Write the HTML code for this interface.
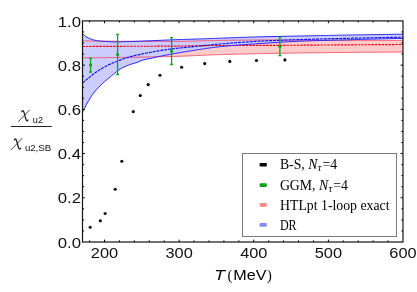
<!DOCTYPE html>
<html><head><meta charset="utf-8"><title>plot</title>
<style>html,body{margin:0;padding:0;background:#fff;}svg{display:block;will-change:transform;}text{font-family:"Liberation Sans",sans-serif;fill:#111;}.ser{font-family:"Liberation Serif",serif;fill:#000;}</style></head>
<body>
<svg width="417" height="292" viewBox="0 0 417 292">
<rect width="417" height="292" fill="#fff"/>
<path d="M82.50 40.90 L84.52 40.92 L86.53 40.95 L88.55 40.97 L90.56 40.99 L92.58 41.01 L94.59 41.03 L96.61 41.06 L98.63 41.08 L100.64 41.10 L102.66 41.12 L104.67 41.13 L106.69 41.15 L108.70 41.17 L110.72 41.19 L112.74 41.20 L114.75 41.22 L116.77 41.23 L118.78 41.24 L120.80 41.26 L122.81 41.27 L124.83 41.28 L126.85 41.29 L128.86 41.30 L130.88 41.30 L132.89 41.31 L134.91 41.32 L136.92 41.32 L138.94 41.33 L140.96 41.34 L142.97 41.34 L144.99 41.35 L147.00 41.36 L149.02 41.36 L151.03 41.37 L153.05 41.37 L155.07 41.38 L157.08 41.38 L159.10 41.38 L161.11 41.39 L163.13 41.39 L165.14 41.39 L167.16 41.40 L169.18 41.40 L171.19 41.40 L173.21 41.40 L175.22 41.40 L177.24 41.39 L179.25 41.38 L181.27 41.36 L183.29 41.33 L185.30 41.29 L187.32 41.25 L189.33 41.20 L191.35 41.15 L193.36 41.09 L195.38 41.03 L197.40 40.97 L199.41 40.91 L201.43 40.85 L203.44 40.79 L205.46 40.73 L207.47 40.67 L209.49 40.62 L211.51 40.56 L213.52 40.52 L215.54 40.47 L217.55 40.44 L219.57 40.41 L221.58 40.38 L223.60 40.35 L225.62 40.33 L227.63 40.30 L229.65 40.28 L231.66 40.25 L233.68 40.23 L235.69 40.20 L237.71 40.18 L239.73 40.16 L241.74 40.14 L243.76 40.12 L245.77 40.10 L247.79 40.08 L249.81 40.06 L251.82 40.05 L253.84 40.04 L255.85 40.02 L257.87 40.01 L259.88 40.01 L261.90 40.00 L263.92 40.00 L265.93 40.00 L267.95 40.00 L269.96 40.01 L271.98 40.01 L273.99 40.02 L276.01 40.02 L278.03 40.03 L280.04 40.04 L282.06 40.05 L284.07 40.06 L286.09 40.08 L288.10 40.09 L290.12 40.10 L292.14 40.12 L294.15 40.13 L296.17 40.15 L298.18 40.17 L300.20 40.18 L302.21 40.20 L304.23 40.21 L306.25 40.23 L308.26 40.25 L310.28 40.26 L312.29 40.28 L314.31 40.29 L316.32 40.31 L318.34 40.32 L320.36 40.33 L322.37 40.34 L324.39 40.36 L326.40 40.37 L328.42 40.37 L330.43 40.38 L332.45 40.39 L334.47 40.39 L336.48 40.40 L338.50 40.40 L340.51 40.40 L342.53 40.40 L344.54 40.40 L346.56 40.40 L348.58 40.40 L350.59 40.40 L352.61 40.40 L354.62 40.40 L356.64 40.40 L358.65 40.40 L360.67 40.40 L362.69 40.40 L364.70 40.39 L366.72 40.39 L368.73 40.39 L370.75 40.39 L372.76 40.39 L374.78 40.38 L376.80 40.38 L378.81 40.38 L380.83 40.37 L382.84 40.37 L384.86 40.36 L386.87 40.36 L388.89 40.35 L390.91 40.35 L392.92 40.34 L394.94 40.33 L396.95 40.33 L398.97 40.32 L400.98 40.31 L403.00 40.30 L403.00 52.00 L400.98 52.01 L398.97 52.02 L396.95 52.03 L394.94 52.05 L392.92 52.06 L390.91 52.07 L388.89 52.09 L386.87 52.10 L384.86 52.11 L382.84 52.13 L380.83 52.14 L378.81 52.16 L376.80 52.17 L374.78 52.19 L372.76 52.21 L370.75 52.22 L368.73 52.24 L366.72 52.25 L364.70 52.27 L362.69 52.29 L360.67 52.31 L358.65 52.32 L356.64 52.34 L354.62 52.36 L352.61 52.38 L350.59 52.40 L348.58 52.42 L346.56 52.44 L344.54 52.46 L342.53 52.48 L340.51 52.49 L338.50 52.51 L336.48 52.54 L334.47 52.56 L332.45 52.58 L330.43 52.60 L328.42 52.62 L326.40 52.64 L324.39 52.66 L322.37 52.69 L320.36 52.71 L318.34 52.73 L316.32 52.76 L314.31 52.78 L312.29 52.80 L310.28 52.83 L308.26 52.85 L306.25 52.88 L304.23 52.90 L302.21 52.93 L300.20 52.96 L298.18 52.98 L296.17 53.01 L294.15 53.04 L292.14 53.07 L290.12 53.10 L288.10 53.13 L286.09 53.16 L284.07 53.19 L282.06 53.22 L280.04 53.25 L278.03 53.28 L276.01 53.31 L273.99 53.35 L271.98 53.38 L269.96 53.41 L267.95 53.45 L265.93 53.48 L263.92 53.52 L261.90 53.56 L259.88 53.59 L257.87 53.63 L255.85 53.68 L253.84 53.72 L251.82 53.76 L249.81 53.81 L247.79 53.85 L245.77 53.90 L243.76 53.95 L241.74 54.00 L239.73 54.05 L237.71 54.10 L235.69 54.15 L233.68 54.21 L231.66 54.26 L229.65 54.32 L227.63 54.38 L225.62 54.43 L223.60 54.49 L221.58 54.55 L219.57 54.61 L217.55 54.68 L215.54 54.75 L213.52 54.82 L211.51 54.90 L209.49 54.99 L207.47 55.07 L205.46 55.16 L203.44 55.25 L201.43 55.34 L199.41 55.43 L197.40 55.53 L195.38 55.62 L193.36 55.71 L191.35 55.80 L189.33 55.89 L187.32 55.97 L185.30 56.05 L183.29 56.13 L181.27 56.20 L179.25 56.27 L177.24 56.34 L175.22 56.39 L173.21 56.45 L171.19 56.50 L169.18 56.55 L167.16 56.60 L165.14 56.65 L163.13 56.69 L161.11 56.74 L159.10 56.78 L157.08 56.83 L155.07 56.87 L153.05 56.91 L151.03 56.95 L149.02 56.99 L147.00 57.03 L144.99 57.06 L142.97 57.10 L140.96 57.13 L138.94 57.17 L136.92 57.20 L134.91 57.23 L132.89 57.26 L130.88 57.29 L128.86 57.32 L126.85 57.34 L124.83 57.37 L122.81 57.40 L120.80 57.42 L118.78 57.45 L116.77 57.47 L114.75 57.50 L112.74 57.52 L110.72 57.55 L108.70 57.57 L106.69 57.59 L104.67 57.62 L102.66 57.64 L100.64 57.66 L98.63 57.68 L96.61 57.70 L94.59 57.71 L92.58 57.73 L90.56 57.75 L88.55 57.76 L86.53 57.78 L84.52 57.79 L82.50 57.80 Z" fill="#ffcccc" stroke="none"/>
<path d="M82.50 33.50 L84.52 35.44 L86.53 36.97 L88.55 38.12 L90.56 38.95 L92.58 39.62 L94.59 40.18 L96.61 40.62 L98.63 40.91 L100.64 41.11 L102.66 41.26 L104.67 41.41 L106.69 41.56 L108.70 41.70 L110.72 41.80 L112.74 41.85 L114.75 41.88 L116.77 41.90 L118.78 41.88 L120.80 41.83 L122.81 41.77 L124.83 41.70 L126.85 41.65 L128.86 41.58 L130.88 41.51 L132.89 41.44 L134.91 41.37 L136.92 41.30 L138.94 41.22 L140.96 41.14 L142.97 41.06 L144.99 40.98 L147.00 40.90 L149.02 40.82 L151.03 40.74 L153.05 40.66 L155.07 40.57 L157.08 40.48 L159.10 40.38 L161.11 40.29 L163.13 40.20 L165.14 40.11 L167.16 40.02 L169.18 39.93 L171.19 39.84 L173.21 39.77 L175.22 39.69 L177.24 39.62 L179.25 39.56 L181.27 39.50 L183.29 39.44 L185.30 39.39 L187.32 39.33 L189.33 39.27 L191.35 39.21 L193.36 39.15 L195.38 39.09 L197.40 39.02 L199.41 38.95 L201.43 38.88 L203.44 38.81 L205.46 38.73 L207.47 38.66 L209.49 38.58 L211.51 38.51 L213.52 38.43 L215.54 38.36 L217.55 38.29 L219.57 38.22 L221.58 38.14 L223.60 38.07 L225.62 38.00 L227.63 37.93 L229.65 37.86 L231.66 37.78 L233.68 37.71 L235.69 37.64 L237.71 37.56 L239.73 37.49 L241.74 37.42 L243.76 37.35 L245.77 37.28 L247.79 37.21 L249.81 37.14 L251.82 37.08 L253.84 37.01 L255.85 36.95 L257.87 36.89 L259.88 36.84 L261.90 36.78 L263.92 36.73 L265.93 36.68 L267.95 36.63 L269.96 36.58 L271.98 36.54 L273.99 36.50 L276.01 36.46 L278.03 36.42 L280.04 36.38 L282.06 36.34 L284.07 36.30 L286.09 36.26 L288.10 36.23 L290.12 36.19 L292.14 36.15 L294.15 36.11 L296.17 36.07 L298.18 36.04 L300.20 36.00 L302.21 35.96 L304.23 35.91 L306.25 35.87 L308.26 35.83 L310.28 35.79 L312.29 35.75 L314.31 35.71 L316.32 35.67 L318.34 35.62 L320.36 35.58 L322.37 35.54 L324.39 35.50 L326.40 35.46 L328.42 35.42 L330.43 35.38 L332.45 35.34 L334.47 35.30 L336.48 35.26 L338.50 35.23 L340.51 35.19 L342.53 35.16 L344.54 35.12 L346.56 35.08 L348.58 35.05 L350.59 35.01 L352.61 34.98 L354.62 34.94 L356.64 34.91 L358.65 34.88 L360.67 34.84 L362.69 34.81 L364.70 34.77 L366.72 34.74 L368.73 34.71 L370.75 34.68 L372.76 34.64 L374.78 34.61 L376.80 34.58 L378.81 34.55 L380.83 34.52 L382.84 34.49 L384.86 34.46 L386.87 34.43 L388.89 34.40 L390.91 34.37 L392.92 34.34 L394.94 34.31 L396.95 34.28 L398.97 34.25 L400.98 34.23 L403.00 34.20 L403.00 38.40 L400.98 38.45 L398.97 38.49 L396.95 38.54 L394.94 38.59 L392.92 38.63 L390.91 38.68 L388.89 38.73 L386.87 38.78 L384.86 38.83 L382.84 38.88 L380.83 38.93 L378.81 38.98 L376.80 39.03 L374.78 39.08 L372.76 39.13 L370.75 39.18 L368.73 39.23 L366.72 39.28 L364.70 39.34 L362.69 39.39 L360.67 39.44 L358.65 39.49 L356.64 39.55 L354.62 39.60 L352.61 39.66 L350.59 39.71 L348.58 39.76 L346.56 39.82 L344.54 39.87 L342.53 39.93 L340.51 39.99 L338.50 40.04 L336.48 40.10 L334.47 40.15 L332.45 40.20 L330.43 40.26 L328.42 40.31 L326.40 40.36 L324.39 40.42 L322.37 40.47 L320.36 40.53 L318.34 40.59 L316.32 40.65 L314.31 40.71 L312.29 40.77 L310.28 40.83 L308.26 40.90 L306.25 40.97 L304.23 41.04 L302.21 41.11 L300.20 41.19 L298.18 41.27 L296.17 41.36 L294.15 41.46 L292.14 41.56 L290.12 41.66 L288.10 41.77 L286.09 41.88 L284.07 41.99 L282.06 42.11 L280.04 42.24 L278.03 42.36 L276.01 42.49 L273.99 42.61 L271.98 42.74 L269.96 42.88 L267.95 43.01 L265.93 43.14 L263.92 43.27 L261.90 43.40 L259.88 43.54 L257.87 43.67 L255.85 43.80 L253.84 43.94 L251.82 44.08 L249.81 44.21 L247.79 44.36 L245.77 44.50 L243.76 44.65 L241.74 44.80 L239.73 44.95 L237.71 45.11 L235.69 45.27 L233.68 45.43 L231.66 45.61 L229.65 45.78 L227.63 45.96 L225.62 46.15 L223.60 46.34 L221.58 46.54 L219.57 46.74 L217.55 46.97 L215.54 47.20 L213.52 47.46 L211.51 47.73 L209.49 48.01 L207.47 48.30 L205.46 48.60 L203.44 48.90 L201.43 49.21 L199.41 49.52 L197.40 49.83 L195.38 50.14 L193.36 50.45 L191.35 50.77 L189.33 51.09 L187.32 51.41 L185.30 51.74 L183.29 52.08 L181.27 52.42 L179.25 52.76 L177.24 53.11 L175.22 53.46 L173.21 53.81 L171.19 54.17 L169.18 54.54 L167.16 54.91 L165.14 55.29 L163.13 55.68 L161.11 56.08 L159.10 56.50 L157.08 56.94 L155.07 57.39 L153.05 57.84 L151.03 58.29 L149.02 58.72 L147.00 59.11 L144.99 59.51 L142.97 60.01 L140.96 60.74 L138.94 61.64 L136.92 62.43 L134.91 63.07 L132.89 63.67 L130.88 64.28 L128.86 65.00 L126.85 65.81 L124.83 66.69 L122.81 67.66 L120.80 68.74 L118.78 69.98 L116.77 71.47 L114.75 73.13 L112.74 74.85 L110.72 76.53 L108.70 78.20 L106.69 79.87 L104.67 81.57 L102.66 83.36 L100.64 85.24 L98.63 87.26 L96.61 89.44 L94.59 91.82 L92.58 94.52 L90.56 97.54 L88.55 100.85 L86.53 104.39 L84.52 108.12 L82.50 112.00 Z" fill="#ccccff" stroke="none"/>
<path d="M82.50 40.90 L84.52 40.92 L86.53 40.95 L88.55 40.97 L90.56 40.99 L92.58 41.01 L94.59 41.03 L96.61 41.06 L98.63 41.08 L100.64 41.10 L102.66 41.12 L104.67 41.13 L106.69 41.15 L108.70 41.17 L110.72 41.19 L112.74 41.20 L114.75 41.22 L116.77 41.23 L118.78 41.24 L120.80 41.26 L122.81 41.27 L124.83 41.28 L126.85 41.29 L128.86 41.30 L130.88 41.30 L132.89 41.31 L134.91 41.32 L136.92 41.32 L138.94 41.33 L140.96 41.34 L142.97 41.34 L144.99 41.35 L147.00 41.36 L149.02 41.36 L151.03 41.37 L153.05 41.37 L155.07 41.38 L157.08 41.38 L159.10 41.38 L161.11 41.39 L163.13 41.39 L165.14 41.39 L167.16 41.40 L169.18 41.40 L171.19 41.40 L173.21 41.40 L175.22 41.40 L177.24 41.39 L179.25 41.38 L181.27 41.36 L183.29 41.33 L185.30 41.29 L187.32 41.25 L189.33 41.20 L191.35 41.15 L193.36 41.09 L195.38 41.03 L197.40 40.97 L199.41 40.91 L201.43 40.85 L203.44 40.79 L205.46 40.73 L207.47 40.67 L209.49 40.62 L211.51 40.56 L213.52 40.52 L215.54 40.47 L217.55 40.44 L219.57 40.41 L221.58 40.38 L223.60 40.35 L225.62 40.33 L227.63 40.30 L229.65 40.28 L231.66 40.25 L233.68 40.23 L235.69 40.20 L237.71 40.18 L239.73 40.16 L241.74 40.14 L243.76 40.12 L245.77 40.10 L247.79 40.08 L249.81 40.06 L251.82 40.05 L253.84 40.04 L255.85 40.02 L257.87 40.01 L259.88 40.01 L261.90 40.00 L263.92 40.00 L265.93 40.00 L267.95 40.00 L269.96 40.01 L271.98 40.01 L273.99 40.02 L276.01 40.02 L278.03 40.03 L280.04 40.04 L282.06 40.05 L284.07 40.06 L286.09 40.08 L288.10 40.09 L290.12 40.10 L292.14 40.12 L294.15 40.13 L296.17 40.15 L298.18 40.17 L300.20 40.18 L302.21 40.20 L304.23 40.21 L306.25 40.23 L308.26 40.25 L310.28 40.26 L312.29 40.28 L314.31 40.29 L316.32 40.31 L318.34 40.32 L320.36 40.33 L322.37 40.34 L324.39 40.36 L326.40 40.37 L328.42 40.37 L330.43 40.38 L332.45 40.39 L334.47 40.39 L336.48 40.40 L338.50 40.40 L340.51 40.40 L342.53 40.40 L344.54 40.40 L346.56 40.40 L348.58 40.40 L350.59 40.40 L352.61 40.40 L354.62 40.40 L356.64 40.40 L358.65 40.40 L360.67 40.40 L362.69 40.40 L364.70 40.39 L366.72 40.39 L368.73 40.39 L370.75 40.39 L372.76 40.39 L374.78 40.38 L376.80 40.38 L378.81 40.38 L380.83 40.37 L382.84 40.37 L384.86 40.36 L386.87 40.36 L388.89 40.35 L390.91 40.35 L392.92 40.34 L394.94 40.33 L396.95 40.33 L398.97 40.32 L400.98 40.31 L403.00 40.30" fill="none" stroke="#f4485c" stroke-width="0.85"/>
<path d="M82.50 57.80 L84.52 57.79 L86.53 57.78 L88.55 57.76 L90.56 57.75 L92.58 57.73 L94.59 57.71 L96.61 57.70 L98.63 57.68 L100.64 57.66 L102.66 57.64 L104.67 57.62 L106.69 57.59 L108.70 57.57 L110.72 57.55 L112.74 57.52 L114.75 57.50 L116.77 57.47 L118.78 57.45 L120.80 57.42 L122.81 57.40 L124.83 57.37 L126.85 57.34 L128.86 57.32 L130.88 57.29 L132.89 57.26 L134.91 57.23 L136.92 57.20 L138.94 57.17 L140.96 57.13 L142.97 57.10 L144.99 57.06 L147.00 57.03 L149.02 56.99 L151.03 56.95 L153.05 56.91 L155.07 56.87 L157.08 56.83 L159.10 56.78 L161.11 56.74 L163.13 56.69 L165.14 56.65 L167.16 56.60 L169.18 56.55 L171.19 56.50 L173.21 56.45 L175.22 56.39 L177.24 56.34 L179.25 56.27 L181.27 56.20 L183.29 56.13 L185.30 56.05 L187.32 55.97 L189.33 55.89 L191.35 55.80 L193.36 55.71 L195.38 55.62 L197.40 55.53 L199.41 55.43 L201.43 55.34 L203.44 55.25 L205.46 55.16 L207.47 55.07 L209.49 54.99 L211.51 54.90 L213.52 54.82 L215.54 54.75 L217.55 54.68 L219.57 54.61 L221.58 54.55 L223.60 54.49 L225.62 54.43 L227.63 54.38 L229.65 54.32 L231.66 54.26 L233.68 54.21 L235.69 54.15 L237.71 54.10 L239.73 54.05 L241.74 54.00 L243.76 53.95 L245.77 53.90 L247.79 53.85 L249.81 53.81 L251.82 53.76 L253.84 53.72 L255.85 53.68 L257.87 53.63 L259.88 53.59 L261.90 53.56 L263.92 53.52 L265.93 53.48 L267.95 53.45 L269.96 53.41 L271.98 53.38 L273.99 53.35 L276.01 53.31 L278.03 53.28 L280.04 53.25 L282.06 53.22 L284.07 53.19 L286.09 53.16 L288.10 53.13 L290.12 53.10 L292.14 53.07 L294.15 53.04 L296.17 53.01 L298.18 52.98 L300.20 52.96 L302.21 52.93 L304.23 52.90 L306.25 52.88 L308.26 52.85 L310.28 52.83 L312.29 52.80 L314.31 52.78 L316.32 52.76 L318.34 52.73 L320.36 52.71 L322.37 52.69 L324.39 52.66 L326.40 52.64 L328.42 52.62 L330.43 52.60 L332.45 52.58 L334.47 52.56 L336.48 52.54 L338.50 52.51 L340.51 52.49 L342.53 52.48 L344.54 52.46 L346.56 52.44 L348.58 52.42 L350.59 52.40 L352.61 52.38 L354.62 52.36 L356.64 52.34 L358.65 52.32 L360.67 52.31 L362.69 52.29 L364.70 52.27 L366.72 52.25 L368.73 52.24 L370.75 52.22 L372.76 52.21 L374.78 52.19 L376.80 52.17 L378.81 52.16 L380.83 52.14 L382.84 52.13 L384.86 52.11 L386.87 52.10 L388.89 52.09 L390.91 52.07 L392.92 52.06 L394.94 52.05 L396.95 52.03 L398.97 52.02 L400.98 52.01 L403.00 52.00" fill="none" stroke="#f4485c" stroke-width="0.85"/>
<path d="M82.50 46.50 L84.52 46.49 L86.53 46.48 L88.55 46.47 L90.56 46.46 L92.58 46.45 L94.59 46.44 L96.61 46.43 L98.63 46.42 L100.64 46.41 L102.66 46.40 L104.67 46.39 L106.69 46.38 L108.70 46.37 L110.72 46.36 L112.74 46.35 L114.75 46.35 L116.77 46.34 L118.78 46.33 L120.80 46.32 L122.81 46.31 L124.83 46.30 L126.85 46.29 L128.86 46.28 L130.88 46.28 L132.89 46.27 L134.91 46.26 L136.92 46.26 L138.94 46.25 L140.96 46.24 L142.97 46.24 L144.99 46.23 L147.00 46.22 L149.02 46.22 L151.03 46.21 L153.05 46.20 L155.07 46.20 L157.08 46.19 L159.10 46.18 L161.11 46.17 L163.13 46.16 L165.14 46.15 L167.16 46.14 L169.18 46.13 L171.19 46.12 L173.21 46.11 L175.22 46.10 L177.24 46.08 L179.25 46.06 L181.27 46.03 L183.29 46.00 L185.30 45.97 L187.32 45.94 L189.33 45.90 L191.35 45.86 L193.36 45.82 L195.38 45.78 L197.40 45.74 L199.41 45.70 L201.43 45.66 L203.44 45.63 L205.46 45.60 L207.47 45.57 L209.49 45.54 L211.51 45.52 L213.52 45.51 L215.54 45.50 L217.55 45.49 L219.57 45.49 L221.58 45.48 L223.60 45.47 L225.62 45.47 L227.63 45.47 L229.65 45.46 L231.66 45.46 L233.68 45.45 L235.69 45.45 L237.71 45.45 L239.73 45.45 L241.74 45.44 L243.76 45.44 L245.77 45.44 L247.79 45.44 L249.81 45.43 L251.82 45.43 L253.84 45.43 L255.85 45.42 L257.87 45.42 L259.88 45.41 L261.90 45.41 L263.92 45.40 L265.93 45.40 L267.95 45.39 L269.96 45.38 L271.98 45.37 L273.99 45.37 L276.01 45.36 L278.03 45.35 L280.04 45.33 L282.06 45.32 L284.07 45.31 L286.09 45.30 L288.10 45.29 L290.12 45.27 L292.14 45.26 L294.15 45.24 L296.17 45.23 L298.18 45.22 L300.20 45.20 L302.21 45.19 L304.23 45.17 L306.25 45.15 L308.26 45.14 L310.28 45.12 L312.29 45.11 L314.31 45.09 L316.32 45.07 L318.34 45.06 L320.36 45.04 L322.37 45.03 L324.39 45.01 L326.40 45.00 L328.42 44.98 L330.43 44.97 L332.45 44.95 L334.47 44.94 L336.48 44.92 L338.50 44.91 L340.51 44.90 L342.53 44.88 L344.54 44.87 L346.56 44.86 L348.58 44.84 L350.59 44.83 L352.61 44.82 L354.62 44.81 L356.64 44.79 L358.65 44.78 L360.67 44.77 L362.69 44.75 L364.70 44.74 L366.72 44.73 L368.73 44.72 L370.75 44.70 L372.76 44.69 L374.78 44.68 L376.80 44.66 L378.81 44.65 L380.83 44.64 L382.84 44.63 L384.86 44.61 L386.87 44.60 L388.89 44.59 L390.91 44.58 L392.92 44.56 L394.94 44.55 L396.95 44.54 L398.97 44.53 L400.98 44.51 L403.00 44.50" fill="none" stroke="#f00014" stroke-width="1.15" stroke-dasharray="2.5 0.9"/>
<path d="M82.50 33.50 L84.52 35.44 L86.53 36.97 L88.55 38.12 L90.56 38.95 L92.58 39.62 L94.59 40.18 L96.61 40.62 L98.63 40.91 L100.64 41.11 L102.66 41.26 L104.67 41.41 L106.69 41.56 L108.70 41.70 L110.72 41.80 L112.74 41.85 L114.75 41.88 L116.77 41.90 L118.78 41.88 L120.80 41.83 L122.81 41.77 L124.83 41.70 L126.85 41.65 L128.86 41.58 L130.88 41.51 L132.89 41.44 L134.91 41.37 L136.92 41.30 L138.94 41.22 L140.96 41.14 L142.97 41.06 L144.99 40.98 L147.00 40.90 L149.02 40.82 L151.03 40.74 L153.05 40.66 L155.07 40.57 L157.08 40.48 L159.10 40.38 L161.11 40.29 L163.13 40.20 L165.14 40.11 L167.16 40.02 L169.18 39.93 L171.19 39.84 L173.21 39.77 L175.22 39.69 L177.24 39.62 L179.25 39.56 L181.27 39.50 L183.29 39.44 L185.30 39.39 L187.32 39.33 L189.33 39.27 L191.35 39.21 L193.36 39.15 L195.38 39.09 L197.40 39.02 L199.41 38.95 L201.43 38.88 L203.44 38.81 L205.46 38.73 L207.47 38.66 L209.49 38.58 L211.51 38.51 L213.52 38.43 L215.54 38.36 L217.55 38.29 L219.57 38.22 L221.58 38.14 L223.60 38.07 L225.62 38.00 L227.63 37.93 L229.65 37.86 L231.66 37.78 L233.68 37.71 L235.69 37.64 L237.71 37.56 L239.73 37.49 L241.74 37.42 L243.76 37.35 L245.77 37.28 L247.79 37.21 L249.81 37.14 L251.82 37.08 L253.84 37.01 L255.85 36.95 L257.87 36.89 L259.88 36.84 L261.90 36.78 L263.92 36.73 L265.93 36.68 L267.95 36.63 L269.96 36.58 L271.98 36.54 L273.99 36.50 L276.01 36.46 L278.03 36.42 L280.04 36.38 L282.06 36.34 L284.07 36.30 L286.09 36.26 L288.10 36.23 L290.12 36.19 L292.14 36.15 L294.15 36.11 L296.17 36.07 L298.18 36.04 L300.20 36.00 L302.21 35.96 L304.23 35.91 L306.25 35.87 L308.26 35.83 L310.28 35.79 L312.29 35.75 L314.31 35.71 L316.32 35.67 L318.34 35.62 L320.36 35.58 L322.37 35.54 L324.39 35.50 L326.40 35.46 L328.42 35.42 L330.43 35.38 L332.45 35.34 L334.47 35.30 L336.48 35.26 L338.50 35.23 L340.51 35.19 L342.53 35.16 L344.54 35.12 L346.56 35.08 L348.58 35.05 L350.59 35.01 L352.61 34.98 L354.62 34.94 L356.64 34.91 L358.65 34.88 L360.67 34.84 L362.69 34.81 L364.70 34.77 L366.72 34.74 L368.73 34.71 L370.75 34.68 L372.76 34.64 L374.78 34.61 L376.80 34.58 L378.81 34.55 L380.83 34.52 L382.84 34.49 L384.86 34.46 L386.87 34.43 L388.89 34.40 L390.91 34.37 L392.92 34.34 L394.94 34.31 L396.95 34.28 L398.97 34.25 L400.98 34.23 L403.00 34.20" fill="none" stroke="#1c1cff" stroke-width="0.95"/>
<path d="M82.50 112.00 L84.52 108.12 L86.53 104.39 L88.55 100.85 L90.56 97.54 L92.58 94.52 L94.59 91.82 L96.61 89.44 L98.63 87.26 L100.64 85.24 L102.66 83.36 L104.67 81.57 L106.69 79.87 L108.70 78.20 L110.72 76.53 L112.74 74.85 L114.75 73.13 L116.77 71.47 L118.78 69.98 L120.80 68.74 L122.81 67.66 L124.83 66.69 L126.85 65.81 L128.86 65.00 L130.88 64.28 L132.89 63.67 L134.91 63.07 L136.92 62.43 L138.94 61.64 L140.96 60.74 L142.97 60.01 L144.99 59.51 L147.00 59.11 L149.02 58.72 L151.03 58.29 L153.05 57.84 L155.07 57.39 L157.08 56.94 L159.10 56.50 L161.11 56.08 L163.13 55.68 L165.14 55.29 L167.16 54.91 L169.18 54.54 L171.19 54.17 L173.21 53.81 L175.22 53.46 L177.24 53.11 L179.25 52.76 L181.27 52.42 L183.29 52.08 L185.30 51.74 L187.32 51.41 L189.33 51.09 L191.35 50.77 L193.36 50.45 L195.38 50.14 L197.40 49.83 L199.41 49.52 L201.43 49.21 L203.44 48.90 L205.46 48.60 L207.47 48.30 L209.49 48.01 L211.51 47.73 L213.52 47.46 L215.54 47.20 L217.55 46.97 L219.57 46.74 L221.58 46.54 L223.60 46.34 L225.62 46.15 L227.63 45.96 L229.65 45.78 L231.66 45.61 L233.68 45.43 L235.69 45.27 L237.71 45.11 L239.73 44.95 L241.74 44.80 L243.76 44.65 L245.77 44.50 L247.79 44.36 L249.81 44.21 L251.82 44.08 L253.84 43.94 L255.85 43.80 L257.87 43.67 L259.88 43.54 L261.90 43.40 L263.92 43.27 L265.93 43.14 L267.95 43.01 L269.96 42.88 L271.98 42.74 L273.99 42.61 L276.01 42.49 L278.03 42.36 L280.04 42.24 L282.06 42.11 L284.07 41.99 L286.09 41.88 L288.10 41.77 L290.12 41.66 L292.14 41.56 L294.15 41.46 L296.17 41.36 L298.18 41.27 L300.20 41.19 L302.21 41.11 L304.23 41.04 L306.25 40.97 L308.26 40.90 L310.28 40.83 L312.29 40.77 L314.31 40.71 L316.32 40.65 L318.34 40.59 L320.36 40.53 L322.37 40.47 L324.39 40.42 L326.40 40.36 L328.42 40.31 L330.43 40.26 L332.45 40.20 L334.47 40.15 L336.48 40.10 L338.50 40.04 L340.51 39.99 L342.53 39.93 L344.54 39.87 L346.56 39.82 L348.58 39.76 L350.59 39.71 L352.61 39.66 L354.62 39.60 L356.64 39.55 L358.65 39.49 L360.67 39.44 L362.69 39.39 L364.70 39.34 L366.72 39.28 L368.73 39.23 L370.75 39.18 L372.76 39.13 L374.78 39.08 L376.80 39.03 L378.81 38.98 L380.83 38.93 L382.84 38.88 L384.86 38.83 L386.87 38.78 L388.89 38.73 L390.91 38.68 L392.92 38.63 L394.94 38.59 L396.95 38.54 L398.97 38.49 L400.98 38.45 L403.00 38.40" fill="none" stroke="#1c1cff" stroke-width="0.95"/>
<path d="M82.50 83.00 L84.52 81.27 L86.53 79.59 L88.55 77.95 L90.56 76.36 L92.58 74.78 L94.59 73.23 L96.61 71.76 L98.63 70.42 L100.64 69.19 L102.66 68.01 L104.67 66.89 L106.69 65.83 L108.70 64.82 L110.72 63.87 L112.74 62.99 L114.75 62.19 L116.77 61.44 L118.78 60.66 L120.80 59.86 L122.81 59.07 L124.83 58.36 L126.85 57.72 L128.86 57.15 L130.88 56.60 L132.89 56.07 L134.91 55.56 L136.92 55.09 L138.94 54.63 L140.96 54.20 L142.97 53.79 L144.99 53.39 L147.00 53.00 L149.02 52.61 L151.03 52.23 L153.05 51.85 L155.07 51.48 L157.08 51.12 L159.10 50.77 L161.11 50.44 L163.13 50.13 L165.14 49.82 L167.16 49.53 L169.18 49.24 L171.19 48.97 L173.21 48.72 L175.22 48.47 L177.24 48.25 L179.25 48.03 L181.27 47.82 L183.29 47.62 L185.30 47.43 L187.32 47.24 L189.33 47.05 L191.35 46.86 L193.36 46.66 L195.38 46.46 L197.40 46.26 L199.41 46.05 L201.43 45.84 L203.44 45.62 L205.46 45.41 L207.47 45.20 L209.49 44.99 L211.51 44.79 L213.52 44.59 L215.54 44.40 L217.55 44.21 L219.57 44.04 L221.58 43.87 L223.60 43.70 L225.62 43.54 L227.63 43.37 L229.65 43.21 L231.66 43.05 L233.68 42.89 L235.69 42.74 L237.71 42.59 L239.73 42.44 L241.74 42.29 L243.76 42.15 L245.77 42.01 L247.79 41.87 L249.81 41.74 L251.82 41.61 L253.84 41.49 L255.85 41.37 L257.87 41.26 L259.88 41.15 L261.90 41.05 L263.92 40.95 L265.93 40.86 L267.95 40.77 L269.96 40.68 L271.98 40.60 L273.99 40.51 L276.01 40.43 L278.03 40.35 L280.04 40.28 L282.06 40.20 L284.07 40.13 L286.09 40.05 L288.10 39.98 L290.12 39.91 L292.14 39.84 L294.15 39.78 L296.17 39.71 L298.18 39.65 L300.20 39.58 L302.21 39.52 L304.23 39.46 L306.25 39.40 L308.26 39.34 L310.28 39.28 L312.29 39.22 L314.31 39.17 L316.32 39.11 L318.34 39.06 L320.36 39.00 L322.37 38.95 L324.39 38.90 L326.40 38.84 L328.42 38.79 L330.43 38.74 L332.45 38.69 L334.47 38.64 L336.48 38.59 L338.50 38.54 L340.51 38.49 L342.53 38.44 L344.54 38.39 L346.56 38.34 L348.58 38.29 L350.59 38.24 L352.61 38.19 L354.62 38.15 L356.64 38.10 L358.65 38.06 L360.67 38.01 L362.69 37.96 L364.70 37.92 L366.72 37.88 L368.73 37.83 L370.75 37.79 L372.76 37.75 L374.78 37.71 L376.80 37.67 L378.81 37.63 L380.83 37.59 L382.84 37.55 L384.86 37.51 L386.87 37.47 L388.89 37.44 L390.91 37.40 L392.92 37.37 L394.94 37.33 L396.95 37.30 L398.97 37.26 L400.98 37.23 L403.00 37.20" fill="none" stroke="#1010f0" stroke-width="1.15" stroke-dasharray="3.0 0.9"/>
<path d="M90.6 58.3 V72.0 M89.1 58.3 h3 M89.1 72.0 h3" stroke="#0ca416" stroke-width="1.3" fill="none"/>
<circle cx="90.6" cy="65.0" r="1.6" fill="#0ca416"/>
<path d="M117.6 34.4 V74.5 M116.1 34.4 h3 M116.1 74.5 h3" stroke="#0ca416" stroke-width="1.3" fill="none"/>
<circle cx="117.6" cy="54.6" r="1.6" fill="#0ca416"/>
<path d="M171.6 37.6 V64.5 M170.1 37.6 h3 M170.1 64.5 h3" stroke="#0ca416" stroke-width="1.3" fill="none"/>
<circle cx="171.6" cy="51.2" r="1.6" fill="#0ca416"/>
<path d="M279.9 37.1 V55.6 M278.4 37.1 h3 M278.4 55.6 h3" stroke="#0ca416" stroke-width="1.3" fill="none"/>
<circle cx="279.9" cy="46.5" r="1.6" fill="#0ca416"/>
<circle cx="90.2" cy="227.2" r="1.55" fill="#000"/>
<circle cx="100.3" cy="220.7" r="1.55" fill="#000"/>
<circle cx="105.1" cy="213.5" r="1.55" fill="#000"/>
<circle cx="115.2" cy="189.2" r="1.55" fill="#000"/>
<circle cx="121.8" cy="161.3" r="1.55" fill="#000"/>
<circle cx="133.3" cy="111.6" r="1.55" fill="#000"/>
<circle cx="140.3" cy="95.5" r="1.55" fill="#000"/>
<circle cx="148.2" cy="84.6" r="1.55" fill="#000"/>
<circle cx="160.0" cy="75.3" r="1.55" fill="#000"/>
<circle cx="181.6" cy="67.3" r="1.55" fill="#000"/>
<circle cx="204.7" cy="63.6" r="1.55" fill="#000"/>
<circle cx="229.8" cy="61.4" r="1.55" fill="#000"/>
<circle cx="256.5" cy="60.5" r="1.55" fill="#000"/>
<circle cx="284.9" cy="59.9" r="1.55" fill="#000"/>
<rect x="82.50" y="20.90" width="320.50" height="221.10" fill="none" stroke="#141414" stroke-width="1.2"/>
<path d="M89.58 242.00 v-1.60 M89.58 20.90 v1.60 M104.50 242.00 v-2.40 M104.50 20.90 v2.40 M119.42 242.00 v-1.60 M119.42 20.90 v1.60 M134.35 242.00 v-1.60 M134.35 20.90 v1.60 M149.28 242.00 v-1.60 M149.28 20.90 v1.60 M164.20 242.00 v-1.60 M164.20 20.90 v1.60 M179.12 242.00 v-2.40 M179.12 20.90 v2.40 M194.05 242.00 v-1.60 M194.05 20.90 v1.60 M208.97 242.00 v-1.60 M208.97 20.90 v1.60 M223.90 242.00 v-1.60 M223.90 20.90 v1.60 M238.82 242.00 v-1.60 M238.82 20.90 v1.60 M253.75 242.00 v-2.40 M253.75 20.90 v2.40 M268.68 242.00 v-1.60 M268.68 20.90 v1.60 M283.60 242.00 v-1.60 M283.60 20.90 v1.60 M298.52 242.00 v-1.60 M298.52 20.90 v1.60 M313.45 242.00 v-1.60 M313.45 20.90 v1.60 M328.38 242.00 v-2.40 M328.38 20.90 v2.40 M343.30 242.00 v-1.60 M343.30 20.90 v1.60 M358.23 242.00 v-1.60 M358.23 20.90 v1.60 M373.15 242.00 v-1.60 M373.15 20.90 v1.60 M388.07 242.00 v-1.60 M388.07 20.90 v1.60 M82.50 230.94 h1.60 M403.00 230.94 h-1.60 M82.50 219.89 h1.60 M403.00 219.89 h-1.60 M82.50 208.83 h1.60 M403.00 208.83 h-1.60 M82.50 197.78 h2.40 M403.00 197.78 h-2.40 M82.50 186.72 h1.60 M403.00 186.72 h-1.60 M82.50 175.67 h1.60 M403.00 175.67 h-1.60 M82.50 164.62 h1.60 M403.00 164.62 h-1.60 M82.50 153.56 h2.40 M403.00 153.56 h-2.40 M82.50 142.50 h1.60 M403.00 142.50 h-1.60 M82.50 131.45 h1.60 M403.00 131.45 h-1.60 M82.50 120.39 h1.60 M403.00 120.39 h-1.60 M82.50 109.34 h2.40 M403.00 109.34 h-2.40 M82.50 98.28 h1.60 M403.00 98.28 h-1.60 M82.50 87.23 h1.60 M403.00 87.23 h-1.60 M82.50 76.18 h1.60 M403.00 76.18 h-1.60 M82.50 65.12 h2.40 M403.00 65.12 h-2.40 M82.50 54.06 h1.60 M403.00 54.06 h-1.60 M82.50 43.01 h1.60 M403.00 43.01 h-1.60 M82.50 31.95 h1.60 M403.00 31.95 h-1.60" stroke="#000" stroke-width="1.0" fill="none"/>
<text x="81.0" y="247.6" font-size="15" text-anchor="end" textLength="23.3" lengthAdjust="spacingAndGlyphs">0.0</text>
<text x="81.0" y="203.4" font-size="15" text-anchor="end" textLength="23.3" lengthAdjust="spacingAndGlyphs">0.2</text>
<text x="81.0" y="159.2" font-size="15" text-anchor="end" textLength="23.3" lengthAdjust="spacingAndGlyphs">0.4</text>
<text x="81.0" y="114.9" font-size="15" text-anchor="end" textLength="23.3" lengthAdjust="spacingAndGlyphs">0.6</text>
<text x="81.0" y="70.7" font-size="15" text-anchor="end" textLength="23.3" lengthAdjust="spacingAndGlyphs">0.8</text>
<text x="81.0" y="26.5" font-size="15" text-anchor="end" textLength="23.3" lengthAdjust="spacingAndGlyphs">1.0</text>
<text x="104.5" y="257.7" font-size="14.5" text-anchor="middle" textLength="27.3" lengthAdjust="spacingAndGlyphs">200</text>
<text x="179.1" y="257.7" font-size="14.5" text-anchor="middle" textLength="27.3" lengthAdjust="spacingAndGlyphs">300</text>
<text x="253.8" y="257.7" font-size="14.5" text-anchor="middle" textLength="27.3" lengthAdjust="spacingAndGlyphs">400</text>
<text x="328.4" y="257.7" font-size="14.5" text-anchor="middle" textLength="27.3" lengthAdjust="spacingAndGlyphs">500</text>
<text x="403.0" y="257.7" font-size="14.5" text-anchor="middle" textLength="27.3" lengthAdjust="spacingAndGlyphs">600</text>
<text style="fill:#000" x="214.3" y="279.5" font-size="15.2" font-style="italic" textLength="10.7" lengthAdjust="spacingAndGlyphs">T</text>
<text class="ser" x="227.4" y="279.6" font-size="14.5">(</text>
<text style="fill:#000" x="233.3" y="279.5" font-size="15.2" textLength="33.2" lengthAdjust="spacingAndGlyphs">MeV</text>
<text class="ser" x="267.0" y="279.6" font-size="14.5">)</text>
<g transform="translate(18.7 109.7)" fill="none" stroke="#1e1e1e" stroke-linecap="round"><path d="M-0.1 11.7 L10.7 0.4" stroke-width="0.8"/><path d="M3.0 2.0 C3.4 1.0 4.2 0.7 4.7 1.3 C5.3 2.2 5.7 4.0 6.2 6.0 C6.7 8.2 7.1 9.8 7.7 10.6 C8.2 11.3 8.9 11.2 9.3 10.3" stroke-width="1.3"/></g>
<text x="32.8" y="123.3" font-size="8.3" textLength="10.2" lengthAdjust="spacingAndGlyphs">u2</text>
<rect x="11.0" y="126.0" width="40.7" height="1" fill="#222"/>
<g transform="translate(11.3 138.0)" fill="none" stroke="#1e1e1e" stroke-linecap="round"><path d="M-0.1 11.7 L10.7 0.4" stroke-width="0.8"/><path d="M3.0 2.0 C3.4 1.0 4.2 0.7 4.7 1.3 C5.3 2.2 5.7 4.0 6.2 6.0 C6.7 8.2 7.1 9.8 7.7 10.6 C8.2 11.3 8.9 11.2 9.3 10.3" stroke-width="1.3"/></g>
<text x="24.9" y="151.0" font-size="8.3" textLength="26.3" lengthAdjust="spacingAndGlyphs">u2,SB</text>
<rect x="242.5" y="153.5" width="154" height="83" fill="#fff" stroke="#7a7a7a" stroke-width="1"/>
<rect x="259.6" y="162.9" width="7.2" height="3.6" rx="0.8" fill="#000000"/>
<rect x="259.6" y="183.3" width="7.2" height="3.6" rx="0.8" fill="#10a010"/>
<rect x="259.6" y="203.1" width="7.2" height="3.6" rx="0.8" fill="#ff8888"/>
<rect x="259.6" y="223.1" width="7.2" height="3.6" rx="0.8" fill="#8888ff"/>
<text class="ser" fill="#000" x="279.9" y="168.7" font-size="13.8">B-S, <tspan font-style="italic">N</tspan><tspan font-size="10.5" dy="2.6" dx="0.3" font-style="italic">τ</tspan><tspan dy="-2.6" dx="0.9">=4</tspan></text>
<text class="ser" fill="#000" x="279.9" y="189.6" font-size="13.8">GGM, <tspan font-style="italic">N</tspan><tspan font-size="10.5" dy="2.6" dx="0.3" font-style="italic">τ</tspan><tspan dy="-2.6" dx="0.9">=4</tspan></text>
<text class="ser" fill="#000" x="280.0" y="209.9" font-size="13.8">HTLpt 1-loop exact</text>
<text class="ser" fill="#000" x="279.9" y="229.8" font-size="13.8" textLength="16.8" lengthAdjust="spacingAndGlyphs">DR</text>
</svg>
</body></html>
